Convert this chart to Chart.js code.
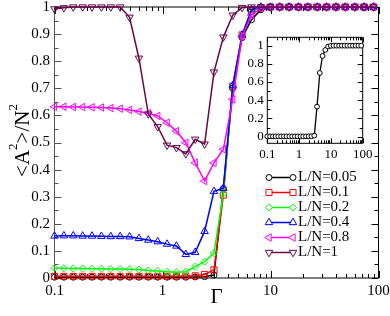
<!DOCTYPE html>
<html>
<head>
<meta charset="utf-8">
<style>
  body { margin: 0; background: #fff; }
  #wrap { position: relative; width: 390px; height: 316px; }
  #inset { position: absolute; left: 230px; top: 25px; }
</style>
</head>
<body>
<div id="wrap">
  <canvas id="main" width="390" height="316"></canvas>
  <canvas id="inset" width="150" height="140"></canvas>
</div>
<script src="https://cdn.jsdelivr.net/npm/chart.js@4.4.1/dist/chart.umd.min.js"></script>
<script>
// Gamma values of the data points
const gamma = [0.1, 0.1221, 0.1492, 0.1822, 0.2226, 0.2718, 0.3320, 0.4055, 0.4953, 0.6050,
  0.7389, 0.9025, 1.102, 1.346, 1.644, 2.009, 2.453, 2.996, 3.660, 4.470,
  5.460, 6.669, 8.145, 9.974, 12.15, 14.84, 18.13, 22.14, 27.04, 33.03,
  40.34, 49.27, 60.18, 73.51, 89.78];

const seriesNames = ['L/N=0.05', 'L/N=0.1', 'L/N=0.2', 'L/N=0.4', 'L/N=0.8', 'L/N=1'];

const ln005 = [0.003, 0.003, 0.003, 0.003, 0.003, 0.003, 0.003, 0.003, 0.003, 0.003,
  0.003, 0.003, 0.003, 0.003, 0.003, 0.004, 0.005, 0.011, 0.33, 0.70,
  0.887, 0.953, 0.99, 0.998, 1, 1, 1, 1, 1, 1, 1, 1, 1, 1, 1];
const ln01 = [0.006, 0.006, 0.006, 0.006, 0.006, 0.006, 0.006, 0.006, 0.006, 0.006,
  0.006, 0.006, 0.006, 0.006, 0.007, 0.008, 0.013, 0.030, 0.306, 0.708,
  0.897, 0.985, 0.998, 1, 1, 1, 1, 1, 1, 1, 1, 1, 1, 1, 1];
const ln02 = [0.036, 0.036, 0.035, 0.035, 0.034, 0.034, 0.033, 0.033, 0.032, 0.031,
  0.028, 0.026, 0.023, 0.021, 0.023, 0.042, 0.060, 0.092, 0.312, 0.708,
  0.897, 0.985, 0.998, 1, 1, 1, 1, 1, 1, 1, 1, 1, 1, 1, 1];
const ln04 = [0.155, 0.156, 0.156, 0.155, 0.155, 0.154, 0.153, 0.153, 0.152, 0.146,
  0.140, 0.134, 0.125, 0.118, 0.087, 0.095, 0.172, 0.320, 0.331, 0.710,
  0.897, 0.990, 1, 1, 1, 1, 1, 1, 1, 1, 1, 1, 1, 1, 1];
const ln08 = [0.632, 0.632, 0.631, 0.631, 0.630, 0.629, 0.627, 0.625, 0.620, 0.614,
  0.608, 0.598, 0.573, 0.542, 0.499, 0.425, 0.358, 0.425, 0.475, 0.659,
  0.893, 0.970, 0.995, 1, 1, 1, 1, 1, 1, 1, 1, 1, 1, 1, 1];
const ln1 = [0.993, 0.997, 1, 1, 1, 1, 1, 1, 0.962, 0.811,
  0.605, 0.558, 0.490, 0.481, 0.458, 0.512, 0.494, 0.760, 0.889, 0.970,
  0.998, 1, 1, 1, 1, 1, 1, 1, 1, 1, 1, 1, 1, 1, 1];

// tick values
const xDecades = [0.1, 1, 10, 100];
const mainYTicks = [0, 0.1, 0.2, 0.3, 0.4, 0.5, 0.6, 0.7, 0.8, 0.9, 1];
const insetYTicks = [0, 0.2, 0.4, 0.6, 0.8, 1];
// y title pieces: [text, superscript?]
const yTitleParts = [['<A', false], ['2', true], ['>/N', false], ['2', true]];

const SERIF = '"Liberation Serif", "DejaVu Serif", serif';
const toPoints = ys => gamma.map((g, i) => ({x: g, y: ys[i]}));
const none = 'rgba(0,0,0,0)';

// frame with inward ticks on all four sides
const frameTicks = {
  id: 'frameTicks',
  beforeDatasetsDraw(chart, args, o) {
    const {ctx, chartArea: a, scales: {x, y}} = chart;
    const seg = (x1, y1, x2, y2, c) => {
      ctx.strokeStyle = c;
      ctx.beginPath(); ctx.moveTo(x1, y1); ctx.lineTo(x2, y2); ctx.stroke();
    };
    ctx.save();
    ctx.lineWidth = 1;
    const xt = (v, len) => {
      const px = Math.round(x.getPixelForValue(v)) + 0.5;
      seg(px, a.bottom, px, a.bottom - len, '#000');
      seg(px, a.top, px, a.top + len, '#000');
    };
    const yt = (v, len) => {
      const py = Math.round(y.getPixelForValue(v)) + 0.5;
      seg(a.left, py, a.left + len, py, o.leftColor);
      seg(a.right, py, a.right - len, py, '#000');
    };
    xDecades.forEach((d, i) => {
      xt(d, o.major);
      if (i < xDecades.length - 1) for (let m = 2; m < 10; m++) xt(d * m, o.minor);
    });
    o.yTicks.forEach((v, i) => {
      yt(v, o.major);
      if (i < o.yTicks.length - 1) yt((v + o.yTicks[i + 1]) / 2, o.minor);
    });
    seg(a.left, a.top, a.right, a.top, '#000');
    seg(a.right, a.top, a.right, a.bottom, '#000');
    seg(a.left, a.bottom, a.right, a.bottom, '#000');
    seg(a.left, a.top, a.left, a.bottom, o.leftColor);
    ctx.restore();
  }
};

// rotated y title with real superscripts
const yTitle = {
  id: 'yTitle',
  afterDraw(chart, args, o) {
    const ctx = chart.ctx;
    const a = chart.chartArea;
    const big = o.size + 'px ' + SERIF, small = o.supSize + 'px ' + SERIF;
    ctx.save();
    let w = 0;
    yTitleParts.forEach(([t, sup]) => { ctx.font = sup ? small : big; w += ctx.measureText(t).width; });
    ctx.translate(o.x, (a.top + a.bottom) / 2 + o.dy);
    ctx.rotate(-Math.PI / 2);
    ctx.fillStyle = '#000';
    ctx.textBaseline = 'alphabetic';
    let cx = -w / 2;
    yTitleParts.forEach(([t, sup]) => {
      ctx.font = sup ? small : big;
      ctx.fillText(t, cx, sup ? -o.raise : 0);
      cx += ctx.measureText(t).width;
    });
    ctx.restore();
  }
};

// legend with a marker at both ends of the line
const legendLines = {
  id: 'legendLines',
  afterDatasetsDraw(chart, args, o) {
    const ctx = chart.ctx;
    ctx.save();
    ctx.font = o.font;
    ctx.textBaseline = 'middle';
    chart.data.datasets.forEach((ds, i) => {
      const yy = o.y + i * o.step;
      ctx.strokeStyle = ds.borderColor;
      ctx.lineWidth = ds.borderWidth;
      ctx.beginPath(); ctx.moveTo(o.x1, yy); ctx.lineTo(o.x2, yy); ctx.stroke();
      ctx.fillStyle = '#fff';
      ctx.lineWidth = ds.pointBorderWidth;
      [o.x1, o.x2].forEach(px => {
        if (Chart.helpers && Chart.helpers.drawPoint) {
          Chart.helpers.drawPoint(ctx, {pointStyle: ds.pointStyle, rotation: ds.pointRotation || 0,
            radius: ds.pointRadius, borderWidth: ds.pointBorderWidth}, px, yy);
        }
      });
      ctx.fillStyle = '#000';
      ctx.fillText(ds.label, o.tx, yy);
    });
    ctx.restore();
  }
};

const styles = [
  {color: '#000000', style: 'circle', r: 3},
  {color: '#ff0000', style: 'rect', r: 4.3},
  {color: '#00ff00', style: 'rectRot', r: 3.6},
  {color: '#0000ff', style: 'triangle', r: 4.3},
  {color: '#ff00ff', style: 'triangle', r: 4.3, rot: -90},
  {color: '#670748', style: 'triangle', r: 4.3, rot: 180}
];
const allSeries = [ln005, ln01, ln02, ln04, ln08, ln1];

new Chart(document.getElementById('main'), {
  type: 'line',
  data: {
    datasets: allSeries.map((s, i) => ({
      label: seriesNames[i],
      data: toPoints(s),
      borderColor: styles[i].color,
      borderWidth: 1.5,
      pointStyle: styles[i].style,
      pointRotation: styles[i].rot || 0,
      pointRadius: styles[i].r,
      pointBorderWidth: 1,
      pointBorderColor: styles[i].color,
      pointBackgroundColor: none,
      backgroundColor: none,
      fill: false,
      tension: 0,
      clip: false,
      order: allSeries.length - i
    }))
  },
  options: {
    responsive: false,
    animation: false,
    events: [],
    layout: {padding: {left: 0, right: 11.5, top: 7, bottom: 0}},
    scales: {
      x: {
        type: 'logarithmic', min: 0.1, max: 100,
        afterBuildTicks: s => { s.ticks = xDecades.map(v => ({value: v})); },
        afterFit: s => { s.height = 38; s.paddingLeft = 0; s.paddingRight = 0; },
        grid: {display: false, drawTicks: false},
        border: {display: false},
        ticks: {autoSkip: false, maxRotation: 0, padding: 4, color: '#000',
          font: {family: SERIF, size: 15},
          callback: v => String(v)},
        title: {display: true, text: 'Γ', color: '#000', font: {family: SERIF, size: 21},
          padding: {top: 0, bottom: 6}}
      },
      y: {
        type: 'linear', min: 0, max: 1,
        afterBuildTicks: s => { s.ticks = mainYTicks.map(v => ({value: v})); },
        afterFit: s => { s.width = 54.5; s.paddingTop = 0; s.paddingBottom = 0; },
        grid: {display: false, drawTicks: false},
        border: {display: false},
        ticks: {padding: 4.5, color: '#000', font: {family: SERIF, size: 15},
          callback: v => String(+v.toFixed(2))}
      }
    },
    plugins: {
      legend: {display: false},
      tooltip: {enabled: false},
      frameTicks: {major: 7, minor: 4, leftColor: '#555', yTicks: mainYTicks},
      yTitle: {x: 28.5, dy: -2, size: 21, supSize: 13, raise: 12},
      legendLines: {x1: 269, x2: 293, tx: 298, y: 177.5, step: 15, font: '15px ' + SERIF}
    }
  },
  plugins: [frameTicks, yTitle, legendLines]
});

new Chart(document.getElementById('inset'), {
  type: 'line',
  data: {
    datasets: [{
      label: seriesNames[0],
      data: toPoints(ln005),
      borderColor: '#000',
      borderWidth: 1.3,
      pointStyle: 'circle',
      pointRadius: 2.4,
      pointBorderWidth: 1,
      pointBorderColor: '#000',
      pointBackgroundColor: '#fff',
      fill: false,
      tension: 0,
      clip: false
    }]
  },
  options: {
    responsive: false,
    animation: false,
    events: [],
    layout: {padding: {left: 0, right: 17.3, top: 12.3, bottom: 0}},
    scales: {
      x: {
        type: 'logarithmic', min: 0.1, max: 100,
        afterBuildTicks: s => { s.ticks = xDecades.map(v => ({value: v})); },
        afterFit: s => { s.height = 21.7; s.paddingLeft = 0; s.paddingRight = 0; },
        grid: {display: false, drawTicks: false},
        border: {display: false},
        ticks: {autoSkip: false, maxRotation: 0, padding: 3, color: '#000',
          font: {family: SERIF, size: 13}, callback: v => String(v)}
      },
      y: {
        type: 'linear', min: -0.073, max: 1.092,
        afterBuildTicks: s => { s.ticks = insetYTicks.map(v => ({value: v})); },
        afterFit: s => { s.width = 37.3; s.paddingTop = 0; s.paddingBottom = 0; },
        grid: {display: false, drawTicks: false},
        border: {display: false},
        ticks: {padding: 3.5, color: '#000', font: {family: SERIF, size: 13},
          callback: v => String(+v.toFixed(2))}
      }
    },
    plugins: {
      legend: {display: false},
      tooltip: {enabled: false},
      frameTicks: {major: 5, minor: 3, leftColor: '#000', yTicks: insetYTicks}
    }
  },
  plugins: [frameTicks]
});
</script>
</body>
</html>
